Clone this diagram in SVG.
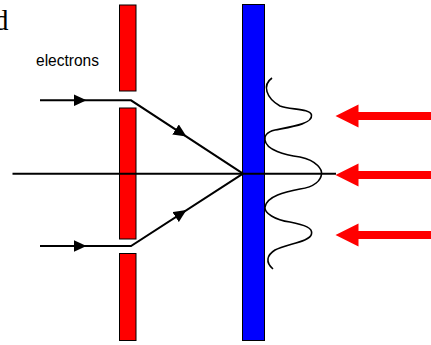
<svg xmlns="http://www.w3.org/2000/svg" width="431" height="345" viewBox="0 0 431 345">
<style>
.slit{fill:#ff0000;stroke:#000;stroke-width:1}
.screen{fill:#0000ff;stroke:#000;stroke-width:1}
.ray{fill:none;stroke:#000;stroke-width:2}
.lbl{font-family:"Liberation Sans",Arial,sans-serif;fill:#000}
</style>
<defs>
<marker id="tri" markerWidth="13" markerHeight="12" refX="6.5" refY="6" orient="auto" markerUnits="userSpaceOnUse" viewBox="0 0 13 12">
<path d="M0,0 L13,6 L0,12 Z" fill="#000"/>
</marker>
</defs>
<rect width="431" height="345" fill="#fff"/>
<text x="-6" y="30" font-family="'Liberation Serif','Times New Roman',serif" font-size="29" fill="#000">d</text>
<g id="label-electrons"><text class="lbl" x="36" y="66" font-size="16.5" textLength="63" lengthAdjust="spacingAndGlyphs">electrons</text></g>
<g id="slit-top"><rect class="slit" x="119.5" y="5" width="16.5" height="86"/></g>
<g id="slit-mid"><rect class="slit" x="119.5" y="108" width="16.5" height="131"/></g>
<g id="slit-bot"><rect class="slit" x="119.5" y="253.5" width="16.5" height="87"/></g>
<g id="screen"><rect class="screen" x="242.5" y="4.5" width="22" height="336"/></g>
<g id="connectors">
<line x1="12.5" y1="173.7" x2="336" y2="173.7" stroke="#000" stroke-width="2"/>
<polyline class="ray" points="40,100.3 131,100.3 243,173.7"/>
<polyline class="ray" points="40,246 131,246 243,173.7"/>
<path d="M40,100.3 L80,100.3" fill="none" stroke="none" marker-end="url(#tri)"/>
<path d="M40,246 L80,246" fill="none" stroke="none" marker-end="url(#tri)"/>
<path d="M131,100.3 L181,133" fill="none" stroke="none" marker-end="url(#tri)"/>
<path d="M131,246 L181,213.5" fill="none" stroke="none" marker-end="url(#tri)"/>
</g>
<g id="wave">
<path d="M272,78 C262,85 266,98 280,106 C290,110 310,108 311.5,115 C313,124 290,127 275,130 C266,132 264,137 265,140 C266,150 285,155 300,157 C318,161 322,170 321.5,174 C321,180 315,187 300,189 C285,192 267,196 265,207 C264,213 275,220 290,222 C305,225 313,228 311.5,234 C310,242 285,244 275,250 C267,255 265,262 273,269" fill="none" stroke="#000" stroke-width="1.6"/>
</g>
<g id="arrows-red" fill="#ff0000">
<path d="M335.5,116 L358.5,104.5 L358.5,112 L431,112 L431,120 L358.5,120 L358.5,127.5 Z"/>
<path d="M335.5,175 L358.5,163.5 L358.5,171 L431,171 L431,179 L358.5,179 L358.5,186.5 Z"/>
<path d="M335.5,235 L358.5,223.5 L358.5,231 L431,231 L431,239 L358.5,239 L358.5,246.5 Z"/>
</g>
</svg>
